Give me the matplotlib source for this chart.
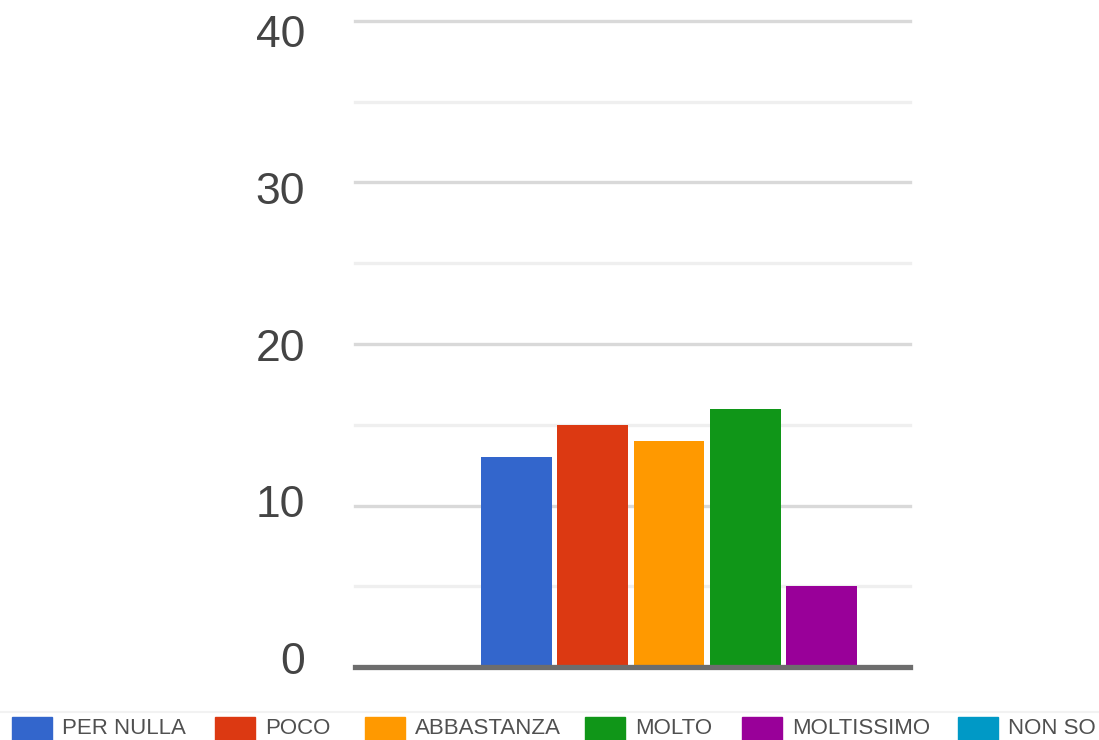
import matplotlib
matplotlib.use("Agg")
import matplotlib.pyplot as plt
from matplotlib.patches import Rectangle
from matplotlib.lines import Line2D
from matplotlib import font_manager

categories = ["PER NULLA", "POCO", "ABBASTANZA", "MOLTO", "MOLTISSIMO", "NON SO"]
values = [13, 15, 14, 16, 5, 0]
colors = ["#3366cc", "#dc3912", "#ff9900", "#109618", "#990099", "#0099c6"]
yticks = [0, 10, 20, 30, 40]
minor_ticks = [5, 15, 25, 35]

names = {f.name for f in font_manager.fontManager.ttflist}
tick_font = "Liberation Sans" if "Liberation Sans" in names else "DejaVu Sans"
leg_font = "Liberation Sans Narrow" if "Liberation Sans Narrow" in names else tick_font

W, H = 1099, 740
fig = plt.figure(figsize=(W / 100, H / 100), dpi=100)
ax = fig.add_axes([355 / W, (H - 667) / H, (910 - 355) / W, (667 - 21) / H])

x = list(range(len(categories)))
ax.bar(x, values, width=0.93, color=colors, zorder=3)

ax.set_xlim(-2.118, 5.16)
ax.set_ylim(0, 40)
for v in yticks[1:]:
    ax.axhline(v, color="#d9d9d9", lw=2.4, zorder=1, clip_on=False)
for v in minor_ticks:
    ax.axhline(v, color="#efefef", lw=2.4, zorder=1, clip_on=False)
ax.axhline(0, color="#6d6d6d", lw=3.8, zorder=4, clip_on=False)

ax.set_xticks([])
# label positions slightly compressed as in the source image
ax.set_yticks([0.56 + v * 0.97 for v in yticks])
ax.set_yticklabels([str(v) for v in yticks], fontsize=32, color="#444444", family=tick_font)
ax.tick_params(axis="y", length=0, pad=36)
for s in ax.spines.values():
    s.set_visible(False)

# faint separator line above legend
fig.add_artist(Line2D([0, 1], [(H - 712) / H] * 2, transform=fig.transFigure,
                      color="#f2f2f2", lw=1.5))

# legend
sq_x = [12, 215, 365, 585, 742, 958]
for cx, lab, col in zip(sq_x, categories, colors):
    fig.patches.append(Rectangle((cx / W, 0), 40 / W, 23 / H,
                                 transform=fig.transFigure, color=col))
    fig.text((cx + 50) / W, (H - 729) / H, lab, fontsize=16, color="#505050",
             family=leg_font, va="center", ha="left")

fig.savefig("out.png", dpi=100)
